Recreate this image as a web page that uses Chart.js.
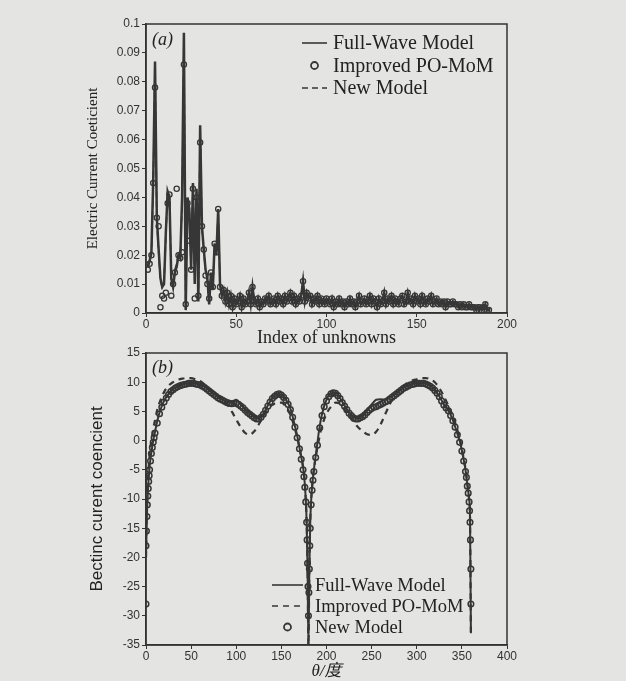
<!DOCTYPE html>
<html>
<head>
<meta charset="utf-8">
<script src="https://cdn.jsdelivr.net/npm/chart.js@4.4.0/dist/chart.umd.min.js"></script>
<style>
  html, body { margin: 0; padding: 0; background: #e4e4e2; }
  #wrap { position: relative; width: 626px; height: 681px; overflow: hidden; }
  canvas { position: absolute; left: 0; }
  #topChart { top: 0; }
  #bottomChart { top: 335px; }
</style>
</head>
<body>
<div id="wrap">
  <canvas id="topChart" width="626" height="350"></canvas>
  <canvas id="bottomChart" width="626" height="346"></canvas>
</div>
<script>
// ---- panel (a): coefficient per unknown index ----
const unknownCount = 190;
// first 42 unknowns, where the three models differ
const headFullWave = [0.016,0.018,0.021,0.046,0.087,0.033,0.022,0.012,0.009,0.010,
  0.028,0.042,0.040,0.012,0.009,0.014,0.016,0.020,0.019,0.040,
  0.097,0.001,0.040,0.036,0.015,0.045,0.010,0.043,0.004,0.065,
  0.030,0.022,0.015,0.012,0.003,0.014,0.008,0.024,0.020,0.036,
  0.010,0.006];
const headPoMoM = [0.015,0.017,0.020,0.045,0.078,0.033,0.030,0.002,0.006,0.005,
  0.007,0.038,0.041,0.006,0.010,0.014,0.043,0.020,0.019,0.021,
  0.086,0.003,0.038,0.025,0.015,0.043,0.005,0.040,0.006,0.059,
  0.030,0.022,0.013,0.010,0.005,0.014,0.009,0.024,0.021,0.036,
  0.009,0.006];
const headNewModel = [0.016,0.018,0.020,0.044,0.086,0.032,0.021,0.011,0.009,0.011,
  0.027,0.041,0.041,0.011,0.009,0.015,0.017,0.021,0.019,0.038,
  0.095,0.002,0.039,0.035,0.016,0.044,0.011,0.042,0.005,0.064,
  0.029,0.021,0.015,0.011,0.004,0.013,0.009,0.023,0.021,0.035,
  0.010,0.006];
// unknowns 43..190, the three models overlap here
const tailValues = [0.008,0.004,0.007,0.003,0.006,0.002,0.005,0.003,
  0.004,0.006,0.002,0.005,0.003,0.004,0.007,0.003,0.009,0.004,
  0.003,0.005,0.002,0.004,0.003,0.005,0.004,0.006,0.003,0.004,
  0.005,0.003,0.006,0.004,0.005,0.003,0.006,0.004,0.005,0.007,
  0.004,0.006,0.003,0.005,0.004,0.006,0.011,0.004,0.007,0.005,
  0.006,0.003,0.005,0.004,0.006,0.003,0.005,0.004,0.003,0.005,
  0.004,0.003,0.005,0.002,0.004,0.003,0.005,0.003,0.004,0.002,
  0.004,0.003,0.005,0.003,0.004,0.002,0.004,0.006,0.003,0.004,
  0.005,0.003,0.004,0.006,0.003,0.005,0.004,0.002,0.005,0.003,
  0.004,0.007,0.003,0.005,0.004,0.006,0.003,0.005,0.004,0.003,
  0.005,0.006,0.003,0.004,0.007,0.004,0.005,0.003,0.006,0.004,
  0.005,0.003,0.006,0.004,0.003,0.005,0.004,0.006,0.003,0.004,
  0.005,0.003,0.004,0.003,0.004,0.002,0.004,0.003,0.003,0.004,
  0.003,0.003,0.002,0.003,0.002,0.003,0.002,0.002,0.003,0.002,
  0.002,0.002,0.001,0.002,0.002,0.001,0.002,0.003,0.001,0.001];
const unknownIndex = Array.from({length: unknownCount}, (_, i) => i + 1);

// ---- panel (b): coefficient vs theta ----
const thetaB = [0,1,2,3,4,5,6,8,10,12,15,20,25,30,35,40,45,50,55,60,65,70,75,80,85,90,95,100,
  105,110,115,120,125,130,135,140,145,150,155,160,165,168,171,174,176,178,179,180,181,182,184,186,
  189,192,195,200,205,210,215,220,225,230,235,240,245,250,255,260,265,270,275,280,285,290,295,300,
  305,310,315,320,325,330,335,340,345,348,351,354,356,358,359,360];
const fullWaveB = [-20,-13,-9,-6.5,-4.5,-3,-2,0,1.5,3,4.8,6.8,8,8.8,9.3,9.6,9.8,9.9,9.8,9.6,9.2,8.6,8.0,7.4,7.0,6.6,6.6,7.0,
  6.2,5.3,4.6,4.0,3.8,4.6,6.0,7.3,8.0,7.9,7.0,5.5,2.5,0.5,-2,-4.5,-7.5,-14,-22,-35,-22,-14,-8,-5,
  -1.5,2,4.5,7,8.1,8.2,7.3,6.0,4.8,4.0,3.8,4.2,5.2,6.2,7.0,7.1,7.0,7.3,7.8,8.4,9.0,9.4,9.7,9.9,
  9.9,9.8,9.4,8.7,7.6,6.2,5.2,3.5,1.2,-0.3,-2.5,-5,-7.5,-10,-13,-33];
const poMomB = [-20,-11,-7,-4.5,-2.5,-1,0,2,3.5,5,6.5,8.3,9.4,10.0,10.4,10.6,10.7,10.7,10.5,10.2,9.6,8.9,8.1,7.5,7.0,6.2,5.0,3.6,
  2.3,1.3,1.0,1.6,2.8,4.2,5.4,6.1,6.5,6.5,5.8,4.4,2.0,0.2,-2,-4.5,-7.5,-14,-22,-35,-22,-14,-8,-5,
  -2,0.5,2.5,4.6,5.8,6.5,6.3,5.3,4.2,3.2,2.3,1.6,1.1,1.0,1.5,2.8,4.5,6.2,7.6,8.6,9.4,9.9,10.3,10.5,
  10.7,10.7,10.5,10.0,9.0,7.6,6.0,4.2,1.8,0.2,-2.2,-4.8,-7.3,-10,-13,-33];
// New Model circles are sampled more densely
const thetaNew = [0,0.5,1,1.5,2,2.5,3,3.5,4,5,6,7,8,9,10,
  12.5,15,17.5,20,22.5,25,27.5,30,32.5,35,37.5,40,42.5,45,47.5,50,52.5,55,57.5,60,
  62.5,65,67.5,70,72.5,75,77.5,80,82.5,85,87.5,90,92.5,95,97.5,100,102.5,105,107.5,110,
  112.5,115,117.5,120,122.5,125,127.5,130,132.5,135,137.5,140,142.5,145,147.5,150,152.5,155,157.5,160,
  162.5,165,167.5,170,172,174,175,176,177,178,178.5,179,179.5,180,180.5,181,181.5,182,183,184,185,186,188,190,
  192.5,195,197.5,200,202.5,205,207.5,210,212.5,215,217.5,220,222.5,225,227.5,230,232.5,235,237.5,240,
  242.5,245,247.5,250,252.5,255,257.5,260,262.5,265,267.5,270,272.5,275,277.5,280,282.5,285,287.5,290,
  292.5,295,297.5,300,302.5,305,307.5,310,312.5,315,317.5,320,322.5,325,327.5,330,332.5,335,337.5,340,
  342.5,345,347.5,350,352,354,355,356,357,358,358.5,359,359.5,360,
  0,360];
const newModelB = [-18,-15.5,-13,-11,-9.5,-8.2,-7,-6,-5,-3.5,-2.2,-1.2,-0.3,0.5,1.3,
  3.0,4.6,5.7,6.6,7.3,7.9,8.4,8.7,9.0,9.2,9.4,9.5,9.6,9.7,9.8,9.8,9.8,9.7,9.6,9.5,
  9.3,9.1,8.8,8.5,8.2,7.9,7.6,7.3,7.1,6.9,6.7,6.5,6.4,6.3,6.4,6.4,6.2,5.9,5.6,5.2,
  4.8,4.5,4.2,3.9,3.7,3.7,4.0,4.5,5.2,5.9,6.6,7.2,7.6,7.9,8.0,7.8,7.4,6.9,6.2,5.3,
  4.0,2.3,0.5,-1.4,-3.2,-5,-6.2,-8,-10.5,-14,-17,-21,-25,-30,-26,-22,-18,-15,-11,-8.5,-6.8,-5.3,-2.9,-0.8,
  2.2,4.3,5.8,6.8,7.5,8.0,8.2,8.1,7.7,7.2,6.5,5.9,5.3,4.7,4.3,3.9,3.7,3.7,3.9,4.1,
  4.4,4.8,5.2,5.5,5.7,5.8,6.0,6.2,6.4,6.6,6.8,7.1,7.4,7.7,8.0,8.3,8.6,8.9,9.1,9.3,
  9.5,9.6,9.7,9.8,9.8,9.8,9.8,9.7,9.5,9.3,9.0,8.6,8.1,7.5,6.8,6.1,5.6,5.1,4.3,3.4,
  2.3,1.0,-0.3,-1.8,-3.5,-5.3,-6.3,-7.8,-9,-10.5,-12,-14,-17,-22,
  -28,-28];

const ink = '#363636';

function pts(xs, ys) {
  return xs.map((x, i) => ({x: x, y: ys[i]}));
}

// frame, panel letter and hand-placed legend
const framePlugin = {
  id: 'frame',
  afterDraw(chart, args, opts) {
    const {ctx, chartArea: a} = chart;
    ctx.save();
    ctx.strokeStyle = '#333';
    ctx.lineWidth = 1.5;
    ctx.strokeRect(a.left, a.top, a.right - a.left, a.bottom - a.top);

    ctx.fillStyle = '#222';
    ctx.textBaseline = 'middle';
    ctx.font = 'italic 18px "Liberation Serif"';
    ctx.fillText(opts.panel, a.left + 6, a.top + opts.panelDy);

    const L = opts.legend;
    ctx.font = L.font;
    chart.data.datasets.forEach((ds, i) => {
      const y = L.y0 + i * L.dy;
      ctx.strokeStyle = ink;
      if (ds.showLine === false) {
        ctx.lineWidth = 1.8;
        ctx.setLineDash([]);
        ctx.beginPath();
        ctx.arc((L.x1 + L.x2) / 2, y, 3.5, 0, Math.PI * 2);
        ctx.stroke();
      } else {
        ctx.lineWidth = 1.6;
        ctx.setLineDash(ds.borderDash || []);
        ctx.beginPath();
        ctx.moveTo(L.x1, y);
        ctx.lineTo(L.x2, y);
        ctx.stroke();
      }
      ctx.setLineDash([]);
      ctx.fillText(ds.label, L.tx, y + 1);
    });
    ctx.restore();
  }
};

function baseScales(o) {
  const tickFont = {family: '"Liberation Sans", Arial, sans-serif', size: 12};
  return {
    x: {
      type: 'linear', min: o.xmin, max: o.xmax,
      ticks: {stepSize: o.xstep, font: tickFont, color: '#333', padding: 0},
      grid: {drawOnChartArea: false, tickLength: 4, color: '#333'},
      border: {display: true, color: '#333', width: 1.5},
      title: {display: true, text: o.xtitle, font: o.xfont, color: '#222', padding: o.xpad},
      afterFit: s => { s.height = o.xh; }
    },
    y: {
      min: o.ymin, max: o.ymax,
      ticks: {stepSize: o.ystep, font: tickFont, color: '#333', padding: 2,
        callback: v => String(parseFloat(v.toFixed(2)))},
      grid: {drawOnChartArea: false, tickLength: 4, color: '#333'},
      border: {display: true, color: '#333', width: 1.5},
      title: {display: true, text: o.ytitle, font: o.yfont, color: '#222', padding: o.ypad},
      afterFit: s => { s.width = 146; }
    }
  };
}

// Panel (a)
new Chart(document.getElementById('topChart').getContext('2d'), {
  type: 'line',
  data: {
    datasets: [{
      label: 'Full-Wave Model',
      data: pts(unknownIndex, headFullWave.concat(tailValues)),
      borderColor: ink, borderWidth: 2.5, pointRadius: 0, tension: 0
    }, {
      label: 'Improved PO-MoM',
      data: pts(unknownIndex, headPoMoM.concat(tailValues)),
      showLine: false, pointStyle: 'circle', pointRadius: 2.6,
      pointBorderColor: ink, pointBackgroundColor: 'rgba(0,0,0,0)', pointBorderWidth: 1.3
    }, {
      label: 'New Model',
      data: pts(unknownIndex, headNewModel.concat(tailValues)),
      borderColor: ink, borderWidth: 1.6, borderDash: [6, 4], pointRadius: 0, tension: 0
    }]
  },
  options: {
    responsive: false, animation: false,
    layout: {padding: {left: 0, top: 24, right: 119, bottom: 0}},
    scales: baseScales({
      xmin: 0, xmax: 200, xstep: 50, xtitle: 'Index of unknowns',
      xfont: {family: '"Liberation Serif", serif', size: 18, lineHeight: 1.2}, xpad: {top: 0, bottom: 1}, xh: 37,
      ymin: 0, ymax: 0.1, ystep: 0.01, ytitle: 'Electric Current Coeticient',
      yfont: {family: '"Liberation Serif", serif', size: 15, lineHeight: 1.2}, ypad: {top: 84, bottom: 0}
    }),
    plugins: {
      legend: {display: false}, tooltip: {enabled: false},
      frame: {
        panel: '(a)', panelDy: 16,
        legend: {x1: 302, x2: 327, tx: 333, y0: 43, dy: 22.5, font: '20px "Liberation Serif"'}
      }
    }
  },
  plugins: [framePlugin]
});

// Panel (b)
new Chart(document.getElementById('bottomChart').getContext('2d'), {
  type: 'line',
  data: {
    datasets: [{
      label: 'Full-Wave Model',
      data: pts(thetaB, fullWaveB),
      borderColor: ink, borderWidth: 2, pointRadius: 0, cubicInterpolationMode: 'monotone'
    }, {
      label: 'Improved PO-MoM',
      data: pts(thetaB, poMomB),
      borderColor: ink, borderWidth: 2.2, borderDash: [6, 5], pointRadius: 0, cubicInterpolationMode: 'monotone'
    }, {
      label: 'New Model',
      data: pts(thetaNew, newModelB),
      showLine: false, pointStyle: 'circle', pointRadius: 2.8,
      pointBorderColor: ink, pointBackgroundColor: 'rgba(0,0,0,0)', pointBorderWidth: 1.5
    }]
  },
  options: {
    responsive: false, animation: false,
    layout: {padding: {left: 0, top: 18, right: 119, bottom: 0}},
    scales: baseScales({
      xmin: 0, xmax: 400, xstep: 50, xtitle: 'θ/度',
      xfont: {family: '"Liberation Serif", "Noto Sans CJK SC", serif', size: 17, style: 'italic', lineHeight: 1}, xpad: {top: 0, bottom: 1}, xh: 36,
      ymin: -35, ymax: 15, ystep: 5, ytitle: 'Bectinc curent coencient',
      yfont: {family: '"Liberation Sans", Arial, sans-serif', size: 17, lineHeight: 1.2}, ypad: {top: 87, bottom: 0}
    }),
    plugins: {
      legend: {display: false}, tooltip: {enabled: false},
      frame: {
        panel: '(b)', panelDy: 15,
        legend: {x1: 272, x2: 303, tx: 315, y0: 250, dy: 21, font: '18.5px "Liberation Serif"'}
      }
    }
  },
  plugins: [framePlugin]
});
</script>
</body>
</html>
